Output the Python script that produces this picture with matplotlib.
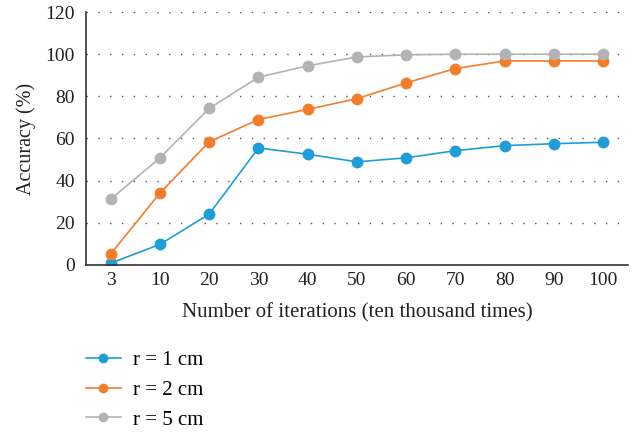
import matplotlib
matplotlib.use('Agg')
import matplotlib.pyplot as plt

# data
iterations = ['3', '10', '20', '30', '40', '50', '60', '70', '80', '90', '100']
acc_r1 = [0.8, 9.7, 24.1, 55.5, 52.5, 48.9, 50.8, 54.2, 56.6, 57.5, 58.2]
acc_r2 = [5.2, 34.1, 58.4, 69.0, 73.8, 78.9, 86.4, 93.2, 96.8, 96.8, 96.8]
acc_r5 = [31.2, 50.8, 74.3, 89.1, 94.5, 98.7, 99.7, 100.0, 100.0, 100.0, 100.0]
labels = ['r = 1 cm', 'r = 2 cm', 'r = 5 cm']
colors = ['#1f9dd9', '#f47d2c', '#b3b3b6']

plt.rcParams['font.family'] = ['Liberation Serif', 'DejaVu Serif']

fig = plt.figure(figsize=(6.38, 4.32), dpi=100)
ax = fig.add_axes([0.135, 0.387, 0.849, 0.585])

x = range(len(iterations))
for ys, lab, c in zip([acc_r1, acc_r2, acc_r5], labels, colors):
    ax.plot(x, ys, color=c, lw=1.2, marker='o', markersize=7.5, label=lab)

ax.set_xlim(-0.5, len(iterations) - 0.5)
ax.set_ylim(0, 120)
ax.set_xticks(list(x))
ax.set_xticklabels(iterations)
ax.set_yticks(range(0, 121, 20))
ax.tick_params(length=0, labelsize=14, colors='#222222', pad=5)
ax.tick_params(axis='y', pad=8)

# dotted horizontal grid, only left and bottom spines
ax.grid(axis='y', color='#555555', linestyle=(0, (1, 7.5)), linewidth=1)
ax.set_axisbelow(True)
for s in ['top', 'right']:
    ax.spines[s].set_visible(False)
for s in ['left', 'bottom']:
    ax.spines[s].set_color('#333333')
    ax.spines[s].set_linewidth(1.2)

ax.set_xlabel('Number of iterations (ten thousand times)', fontsize=15, color='#222222', labelpad=10)
ax.set_ylabel('Accuracy (%)', fontsize=14.5, color='#222222', labelpad=7)

fig.legend(loc='upper left', bbox_to_anchor=(0.121, 0.208), frameon=False,
           fontsize=15, handlelength=1.68, handletextpad=0.62, labelspacing=0.49,
           markerscale=0.8, borderaxespad=0)

fig.savefig('out.png', dpi=100)
